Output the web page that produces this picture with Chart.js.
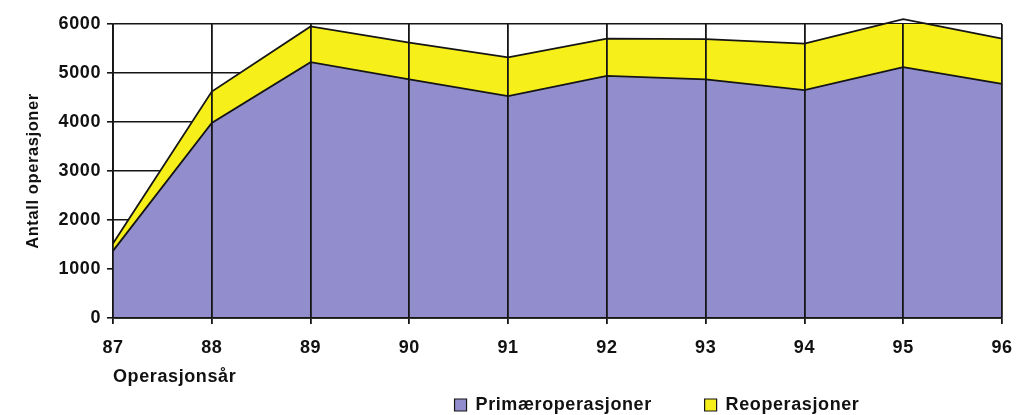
<!DOCTYPE html>
<html lang="no">
<head>
<meta charset="utf-8"/>
<title>Operasjoner per år</title>
<style>
  body { margin: 0; padding: 0; background: #fff; }
  #wrap { width: 1017px; height: 415px; }
</style>
</head>
<body>
<div id="wrap"><canvas id="chart"></canvas></div>
<script src="https://cdn.jsdelivr.net/npm/chart.js"></script>
<script>
const years = ["87", "88", "89", "90", "91", "92", "93", "94", "95", "96"];
const primaer = [1370, 3980, 5220, 4870, 4530, 4940, 4870, 4650, 5120, 4780];
const reop = [150, 640, 730, 750, 790, 760, 820, 950, 980, 920];
const yTicks = [0, 1000, 2000, 3000, 4000, 5000, 6000];

const FONT = "'Liberation Sans', Arial, sans-serif";
const LINE = "#151515";

// letter spacing like the scanned original, and move legend to the right
const spacing = {
  id: "spacing",
  beforeUpdate(chart) { chart.ctx.letterSpacing = "0.6px"; },
  beforeDraw(chart) { chart.ctx.letterSpacing = "0.6px"; },
  afterLayout(chart) {
    const l = chart.legend;
    l.left += 146; l.right += 146;
  }
};

new Chart(document.getElementById("chart"), {
  type: "line",
  data: {
    labels: years,
    datasets: [
      { label: "Primæroperasjoner", data: primaer, fill: "origin",
        backgroundColor: "#928ecd", borderColor: LINE, borderWidth: 1.8,
        pointRadius: 0, tension: 0, clip: false },
      { label: "Reoperasjoner", data: reop, fill: "-1",
        backgroundColor: "#f6ef1a", borderColor: LINE, borderWidth: 1.8,
        pointRadius: 0, tension: 0, clip: false }
    ]
  },
  options: {
    responsive: true,
    maintainAspectRatio: false,
    animation: false,
    layout: { padding: { left: 20, right: 15, top: 24, bottom: -9 } },
    plugins: {
      tooltip: { enabled: false },
      legend: {
        position: "bottom",
        labels: {
          color: "#111", boxWidth: 12, boxHeight: 12, padding: 8,
          font: { family: FONT, size: 18, weight: "bold" },
          generateLabels(chart) {
            const items = Chart.defaults.plugins.legend.labels.generateLabels(chart);
            items[0].text += "        ";
            items.forEach(it => { it.lineWidth = 1.2; });
            return items;
          }
        }
      }
    },
    scales: {
      x: {
        grid: { color: LINE, lineWidth: 1.8, tickLength: 6, z: 1 },
        border: { color: LINE, width: 1.8, z: 1 },
        ticks: { color: "#111", padding: 13, maxRotation: 0,
          font: { family: FONT, size: 18, weight: "bold" } },
        title: { display: true, text: "Operasjonsår", align: "start", color: "#111",
          padding: { top: 0, bottom: 0 },
          font: { family: FONT, size: 18, weight: "bold" } },
        afterFit(s) { s.height = 70; s.paddingLeft = 0; s.paddingRight = 0; }
      },
      y: {
        stacked: true,
        min: 0, max: 6000,
        afterBuildTicks(s) { s.ticks = yTicks.map(v => ({ value: v })); },
        grid: { color: LINE, lineWidth: 1.6, tickLength: 6 },
        border: { color: LINE, width: 1.8 },
        ticks: { color: "#111", padding: 6, callback: v => String(v),
          font: { family: FONT, size: 18, weight: "bold" } },
        title: { display: true, text: "Antall operasjoner", color: "#111",
          padding: { top: 4, bottom: 0 },
          font: { family: FONT, size: 16.5, weight: "bold" } },
        afterFit(s) { s.width = 93; }
      }
    }
  },
  plugins: [spacing]
});
</script>
</body>
</html>
